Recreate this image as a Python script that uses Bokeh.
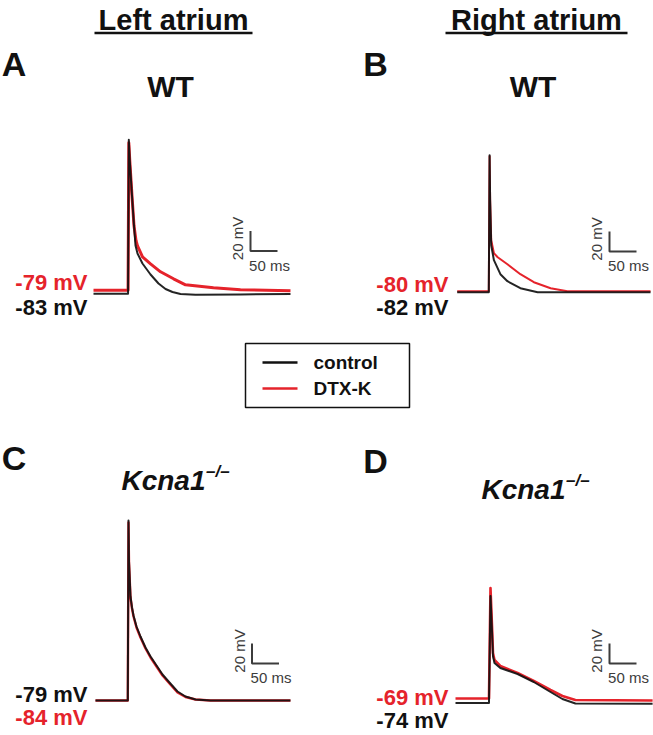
from bokeh.plotting import figure
from bokeh.models import Range1d, Label
from bokeh.embed import file_html
from bokeh.resources import INLINE

# ---------------- data: time (ms from sweep start), membrane potential (mV) ----------------
a_ctrl_t = [0, 64, 65.4, 67.2, 71.3, 75, 77.8, 81.5, 90.7, 105.6, 120.4, 133.4, 146.3, 161.1, 188.9, 272.2, 364.8]
a_ctrl_v = [-83, -83, 71, 50, 15, -15, -34.7, -42.7, -52.7, -63.7, -72.7, -78.2, -81.2, -83.2, -84, -83.7, -83.2]
a_dtx_t = [0, 64, 65.4, 67.2, 71.3, 75, 78.7, 81.5, 90.7, 105.6, 124.1, 148.2, 170.4, 222.2, 272.2, 364.8]
a_dtx_v = [-79.5, -79.5, 68, 50, 15, -15, -29.7, -35, -46, -53, -61, -68, -74, -77, -79, -80]

b_ctrl_t = [0, 58.5, 60, 61, 63, 68, 80, 93, 117, 149, 191, 358]
b_ctrl_v = [-82, -82, 55, 10, -35, -50, -64, -71, -78, -82, -82, -82]
b_dtx_t = [0, 58.5, 60, 61, 63, 68, 75, 93, 117, 142, 173, 204, 358]
b_dtx_v = [-81, -81, 54, 10, -30, -43, -47, -54, -64, -72, -78, -81, -81]

c_ctrl_t = [0, 59.8, 61.1, 62, 64.8, 67.6, 70.4, 75.9, 83.3, 92.6, 101.9, 113, 124.1, 137, 151.9, 166.7, 185.2, 213, 361]
c_ctrl_v = [-79, -79, 101, 61, 25, 14, 6, -5, -15, -26, -35, -44, -53, -61, -70, -75, -78, -79, -79]
c_dtx_t = [0, 59.8, 61.1, 62, 64.8, 67.6, 70.4, 75.9, 83.3, 92.6, 101.9, 113, 124.1, 137, 151.9, 166.7, 185.2, 213, 361]
c_dtx_v = [-79, -79, 99, 60, 24, 13, 5, -6, -16, -27, -36, -45, -54, -62, -71, -75.5, -78, -79, -79]

d_ctrl_t = [0, 62, 64.8, 67.6, 69.4, 72.2, 83, 115, 145, 176, 198, 222, 365]
d_ctrl_v = [-74, -74, 33, -2, -27, -34, -39, -45, -53, -63, -70, -74.5, -74.8]
d_dtx_t = [0, 62, 64.8, 67.6, 69.4, 72.2, 83, 115, 145, 176, 198, 222, 365]
d_dtx_v = [-69.5, -69.5, 41, 3, -24, -31, -37, -44, -52, -61, -67, -71, -71.5]

rest_labels = {"A": ("-79 mV", "-83 mV"), "B": ("-80 mV", "-82 mV"),
               "C": ("-79 mV", "-84 mV"), "D": ("-69 mV", "-74 mV")}
series_names = ["control", "DTX-K"]
scale_mv = 20
scale_ms = 50

# ---------------- layout / style ----------------
RED = "#e5232b"
BLACK = "#111111"
GREY = "#3c3c3c"
FONT = "Liberation Sans"

W, H = 653, 735
X0, X1 = 0, 653
Y0, Y1 = 735, 0
SX = 0.54   # px per ms
SY = 1.0    # px per mV

p = figure(width=W, height=H, x_range=Range1d(X0, X1), y_range=Range1d(Y0, Y1),
           output_backend="svg", toolbar_location=None, min_border=0,
           x_axis_location=None, y_axis_location=None)
p.grid.visible = False
p.outline_line_color = None
p.background_fill_color = "white"
p.border_fill_color = "white"


def lab(x, y, text, size, color=BLACK, style="bold", align="center", baseline="middle", angle=0):
    p.add_layout(Label(x=x, y=y, text=text, text_font=FONT, text_font_size=f"{size}px",
                       text_font_style=style, text_color=color, text_align=align,
                       text_baseline=baseline, angle=angle, angle_units="deg"))


panels = {
    # name: (trace start x, anchor y, anchor mV, scale-bar corner x, y)
    "A": (93, 293.3, -83, 250, 250.5),
    "B": (456.7, 291.7, -82, 609, 251),
    "C": (95, 700, -79, 251.5, 663),
    "D": (455, 702.5, -74, 609, 663),
}
traces = {
    "A": ((a_dtx_t, a_dtx_v, 3.0), (a_ctrl_t, a_ctrl_v, 2.0)),
    "B": ((b_dtx_t, b_dtx_v, 2.0), (b_ctrl_t, b_ctrl_v, 2.0)),
    "C": ((c_dtx_t, c_dtx_v, 2.4), (c_ctrl_t, c_ctrl_v, 2.0)),
    "D": ((d_dtx_t, d_dtx_v, 2.6), (d_ctrl_t, d_ctrl_v, 2.0)),
}

for name, (x0, ya, va, cx, cy) in panels.items():
    p.extra_x_ranges[name] = Range1d((X0 - x0) / SX, (X1 - x0) / SX)
    p.extra_y_ranges[name] = Range1d(va - (Y0 - ya) / SY, va + (ya - Y1) / SY)
    (rt, rv, rw), (bt, bv, bw) = traces[name]
    p.line(rt, rv, x_range_name=name, y_range_name=name, line_color=RED, line_width=rw,
           line_join="round")
    p.line(bt, bv, x_range_name=name, y_range_name=name, line_color=BLACK, line_width=bw,
           line_alpha=0.92, line_join="round")
    # scale bar
    tc = (cx - x0) / SX
    vc = va - (cy - ya) / SY
    p.line([tc, tc, tc + scale_ms], [vc + scale_mv, vc, vc], x_range_name=name,
           y_range_name=name, line_color=GREY, line_width=2)
    lab(cx - 13, cy - 12.5, f"{scale_mv} mV", 15, GREY, "normal", angle=90)
    lab(cx + 19, cy + 5.5, f"{scale_ms} ms", 15, GREY, "normal", baseline="top")

# resting potential labels
lab(87, 282, rest_labels["A"][0], 22, RED, align="right")
lab(87, 306.5, rest_labels["A"][1], 22, BLACK, align="right")
lab(448, 283.5, rest_labels["B"][0], 22, RED, align="right")
lab(448, 306.5, rest_labels["B"][1], 22, BLACK, align="right")
lab(87, 693.5, rest_labels["C"][0], 22, BLACK, align="right")
lab(87, 716.5, rest_labels["C"][1], 22, RED, align="right")
lab(448, 696.5, rest_labels["D"][0], 22, RED, align="right")
lab(448, 720, rest_labels["D"][1], 22, BLACK, align="right")

# column headers with underline
lab(173, 19, "Left atrium", 29)
lab(536, 19, "Right atrium", 29)
p.segment(x0=[94, 445], y0=[32.5, 32.5], x1=[252, 627], y1=[32.5, 32.5],
          line_color=BLACK, line_width=2.5)

# panel letters
lab(13.5, 63, "A", 34)
lab(375, 63, "B", 34)
lab(13.5, 457.5, "C", 34)
lab(375, 460, "D", 34)

# genotype titles
lab(170, 86, "WT", 30)
lab(532.5, 86, "WT", 30)
lab(205, 480, "Kcna1", 28, style="bold italic", align="right")
lab(205.5, 471, "\u2013/\u2013", 17, style="bold italic", align="left")
lab(565, 489, "Kcna1", 28, style="bold italic", align="right")
lab(565.5, 480, "\u2013/\u2013", 17, style="bold italic", align="left")

# legend box
p.quad(left=[245], right=[409], top=[343], bottom=[407], fill_color=None,
       line_color=BLACK, line_width=1.5)
p.segment(x0=[262, 262], y0=[362, 388], x1=[297, 297], y1=[362, 388],
          line_color=[BLACK, RED], line_width=2.5)
lab(313, 362, series_names[0], 19, align="left")
lab(313, 388, series_names[1], 19, align="left")

open("out.html", "w").write(file_html(p, INLINE))
